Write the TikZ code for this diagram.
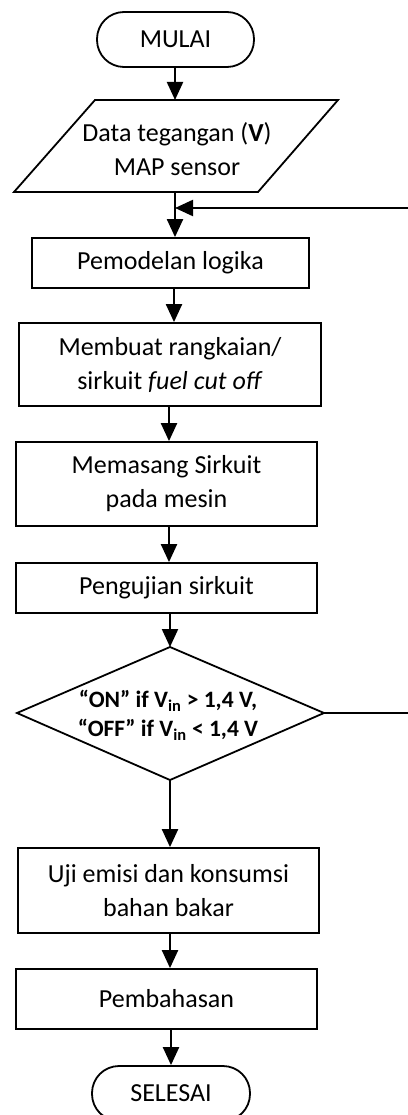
\documentclass[tikz,border=0pt]{standalone}
\usepackage{fontspec}
\setmainfont{Carlito}
\usetikzlibrary{arrows.meta,shapes.geometric,calc}
\begin{document}
\begin{tikzpicture}[x=1pt,y=-1pt,
  every node/.style={font=\fontsize{26}{34}\selectfont, align=center, inner sep=0pt},
  procbox/.style={draw, line width=1.8pt, rectangle},
  term/.style={draw, line width=1.8pt, rectangle, rounded corners=27pt, minimum width=157pt, minimum height=55pt},
  dectext/.style={font=\bfseries\fontsize{23.5}{29}\selectfont},
  shp/.style={line width=1.8pt},
  arr/.style={line width=2.2pt, -{Triangle[length=18pt,width=16pt]}},
  ln/.style={line width=2.2pt}]
\useasboundingbox (0,0) rectangle (407,1115);

\node[term] (mulai) at (175.5,39.5) {MULAI};

% parallelogram
\coordinate (p1) at (95,100);
\coordinate (p2) at (338,100);
\coordinate (p3) at (258,192);
\coordinate (p4) at (14,192);
\draw[shp] (p1) -- (p2) -- (p3) -- (p4) -- cycle;
\node (data) at (177,149) {Data tegangan (\textbf{V})\\MAP sensor};
\coordinate (dtop) at (175,100);
\coordinate (dbot) at (175,192);

\node[procbox, minimum width=277pt, minimum height=50pt] (pem) at (170.5,263) {Pemodelan logika};
\node[procbox, minimum width=302pt, minimum height=83pt] (mem) at (170,364.5) {Membuat rangkaian/\\sirkuit \textit{fuel cut off}};
\node[procbox, minimum width=301pt, minimum height=84pt] (mas) at (166.5,484) {Memasang Sirkuit\\pada mesin};
\node[procbox, minimum width=301pt, minimum height=50pt] (uji1) at (166.5,588) {Pengujian sirkuit};

% decision diamond
\coordinate (dN) at (170,647);
\coordinate (dE) at (324,713);
\coordinate (dS) at (170,780);
\coordinate (dW) at (17,713);
\draw[shp] (dN) -- (dE) -- (dS) -- (dW) -- cycle;
\node[dectext] (dec) at (168,715) {``ON'' if V\textsubscript{in} > 1,4 V,\\``OFF'' if V\textsubscript{in} < 1,4 V};

\node[procbox, minimum width=301pt, minimum height=85pt] (uji2) at (168.5,890.5) {Uji emisi dan konsumsi\\bahan bakar};
\node[procbox, minimum width=301pt, minimum height=60pt] (bhs) at (166.5,999) {Pembahasan};
\node[term, minimum width=158pt] (sel) at (171,1093.5) {SELESAI};

\coordinate (merge) at (175,208);
\coordinate (loopR) at (425,713);

\draw[arr] (mulai.south -| dtop) -- (dtop);
\draw[ln] (dbot) -- (merge);
\draw[arr] (merge) -- (merge |- pem.north);
\draw[arr] (174,288) coordinate (a1) -- (a1 |- mem.north);
\draw[arr] (mem.south -| 169,0) -- (mas.north -| 169,0);
\draw[arr] (mas.south -| 169,0) -- (uji1.north -| 169,0);
\draw[arr] (uji1.south -| dN) -- (dN);
\draw[arr] (dS) -- (uji2.north -| dS);
\draw[arr] (uji2.south -| 170,0) -- (bhs.north -| 170,0);
\draw[arr] (bhs.south -| 171,0) -- (sel.north -| 171,0);
\draw[arr] (dE) -- (loopR) |- (merge);
\end{tikzpicture}
\end{document}
